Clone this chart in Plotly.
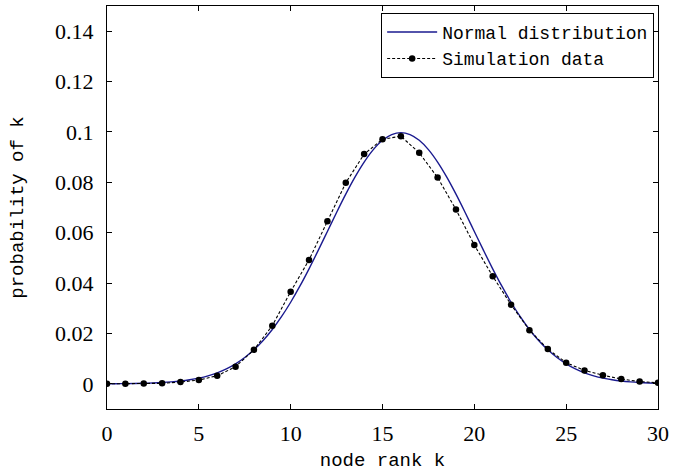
import plotly.graph_objects as go

# Simulation data
sim_k = list(range(0, 31))
sim_p = [0.0000, 0.0000, 0.0001, 0.0002, 0.0007, 0.0015, 0.0032, 0.0068, 0.0135, 0.0231,
         0.0366, 0.0492, 0.0645, 0.0798, 0.0912, 0.0971, 0.0983, 0.0917, 0.0819, 0.0692,
         0.0551, 0.0427, 0.0314, 0.0213, 0.0138, 0.0084, 0.0053, 0.0034, 0.0019, 0.0009,
         0.0004]

# Normal distribution curve (values read at half-unit steps)
norm_k = [i * 0.5 for i in range(0, 61)]
norm_p = [0.00003, 0.00005, 0.00009, 0.00014, 0.00022, 0.00034, 0.00051, 0.00076, 0.00111, 0.00160,
          0.00227, 0.00318, 0.00438, 0.00594, 0.00794, 0.01043, 0.01350, 0.01720, 0.02157, 0.02664,
          0.03238, 0.03876, 0.04566, 0.05297, 0.06049, 0.06802, 0.07529, 0.08204, 0.08802, 0.09297,
          0.09667, 0.09896, 0.09974, 0.09896, 0.09667, 0.09297, 0.08802, 0.08204, 0.07529, 0.06802,
          0.06049, 0.05297, 0.04566, 0.03876, 0.03238, 0.02664, 0.02157, 0.01720, 0.01350, 0.01043,
          0.00794, 0.00594, 0.00438, 0.00318, 0.00227, 0.00160, 0.00111, 0.00076, 0.00051, 0.00034,
          0.00022]

x_ticks = [0, 5, 10, 15, 20, 25, 30]
y_ticks = [0, 0.02, 0.04, 0.06, 0.08, 0.1, 0.12, 0.14]
y_tick_labels = ["0", "0.02", "0.04", "0.06", "0.08", "0.1", "0.12", "0.14"]

serif = "'Liberation Serif', 'DejaVu Serif', serif"
mono = "'Liberation Mono', 'DejaVu Sans Mono', monospace"

fig = go.Figure()
fig.add_trace(go.Scatter(
    x=norm_k, y=norm_p, mode="lines", name="Normal distribution",
    line=dict(color="#1a1a8f", width=1.4, shape="spline"),
))
fig.add_trace(go.Scatter(
    x=sim_k, y=sim_p, mode="lines+markers", name="Simulation data",
    line=dict(color="black", width=1.1, dash="3px,2px"),
    marker=dict(color="black", size=6.5, symbol="circle"),
))

axis_common = dict(
    showgrid=False, zeroline=False, showline=True, linecolor="black", linewidth=1.2,
    mirror="allticks", ticks="inside", ticklen=5, tickcolor="black", tickwidth=1,
    tickfont=dict(family=serif, size=22, color="black"),
)

fig.update_layout(
    width=674, height=472,
    margin=dict(l=107, r=14, t=5, b=61),
    paper_bgcolor="white", plot_bgcolor="white",
    xaxis=dict(range=[0, 30], tickvals=x_ticks, ticklabelstandoff=4,
               title=dict(text="node rank k", font=dict(family=mono, size=19, color="black"), standoff=8),
               **axis_common),
    yaxis=dict(range=[-0.01, 0.15], tickvals=y_ticks, ticktext=y_tick_labels, ticklabelstandoff=8,
               title=dict(text="probability of k", font=dict(family=mono, size=19, color="black"), standoff=26),
               **axis_common),
    legend=dict(x=0.993, y=0.983, xanchor="right", yanchor="top",
                bgcolor="white", bordercolor="black", borderwidth=1,
                font=dict(family=mono, size=18, color="black"),
                tracegroupgap=0, itemwidth=50),
    showlegend=True,
)

fig.write_html("out.html")
